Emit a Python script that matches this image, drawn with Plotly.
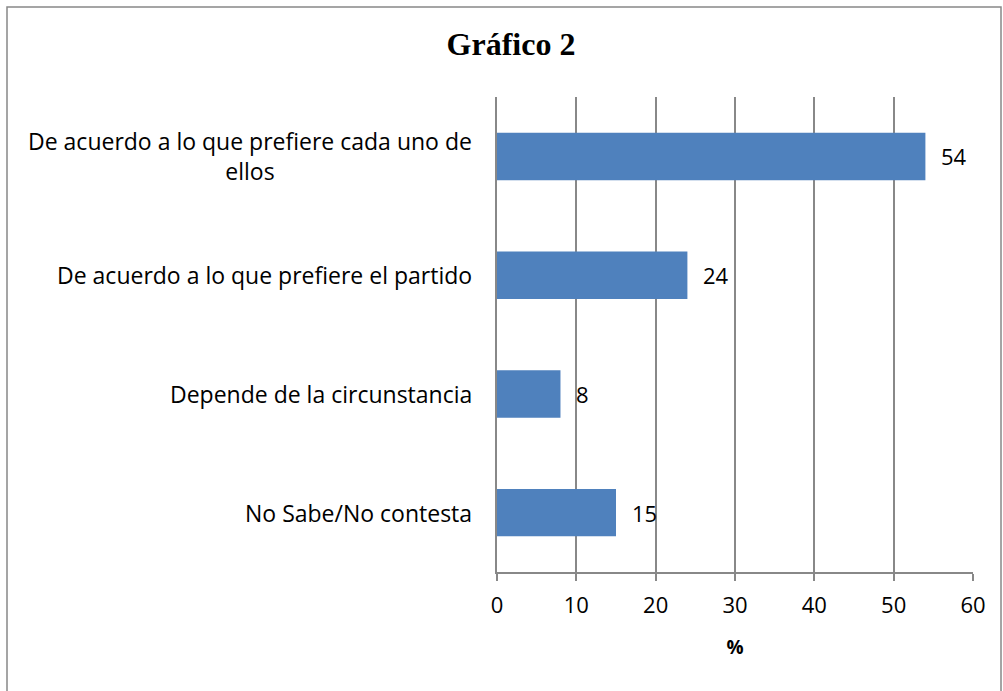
import plotly.graph_objects as go

categories = [
    "De acuerdo a lo que prefiere cada uno de<br>ellos",
    "De acuerdo a lo que prefiere el partido",
    "Depende de la circunstancia",
    "No Sabe/No contesta",
]
values = [54, 24, 8, 15]
x_ticks = [0, 10, 20, 30, 40, 50, 60]

W, H = 1003, 691
L, R, T, B = 497, 30, 97, 119
pw, ph = W - L - R, H - T - B

def px_x(px):
    return (px - L) / pw

def px_y(py):
    return 1 - (py - T) / ph

fig = go.Figure()
fig.add_trace(go.Bar(
    y=categories, x=values, orientation="h",
    marker=dict(color="#4F81BD", line=dict(width=0)),
    text=values, textposition="none", hoverinfo="skip",
))

font_lbl = "'Open Sans', Lato, sans-serif"
for c, v in zip(categories, values):
    fig.add_annotation(x=v, y=c, xref="x", yref="y", text=str(v), showarrow=False,
                       xanchor="left", xshift=14, font=dict(family=font_lbl, size=22, color="black"))
    fig.add_annotation(x=0, y=c, xref="x", yref="y", text=c, showarrow=False,
                       xanchor="right", xshift=-23, align="center",
                       font=dict(family=font_lbl, size=23, color="black"))

fig.update_layout(
    width=W, height=H,
    margin=dict(l=L, r=R, t=T, b=B),
    paper_bgcolor="white", plot_bgcolor="white",
    bargap=0.6, showlegend=False,
    title=dict(text="<b>Gráfico 2</b>", x=511 / W, xref="container", xanchor="center",
               y=1 - 44 / H, yref="container", yanchor="middle",
               font=dict(family="'Liberation Serif', 'Times New Roman', serif", size=32, color="black")),
    xaxis=dict(range=[0, 60], tickvals=x_ticks, showgrid=True, gridcolor="#888888", gridwidth=1.5,
               showline=True, linecolor="#888888", linewidth=1.5, ticks="outside", ticklen=7,
               tickcolor="#888888", tickwidth=1.5, zeroline=False,
               tickfont=dict(family=font_lbl, size=22, color="black"), ticklabelstandoff=6,
               title=dict(text="<b>%</b>", font=dict(family=font_lbl, size=19, color="black"), standoff=23),
               fixedrange=True),
    yaxis=dict(autorange="reversed", showticklabels=False, showgrid=False, showline=True,
               linecolor="#888888", linewidth=1.5, ticks="", zeroline=False, fixedrange=True),
)

# outer chart border
fig.add_shape(type="rect", xref="paper", yref="paper",
              x0=px_x(7), x1=px_x(1001), y0=px_y(700), y1=px_y(7),
              line=dict(color="#888888", width=1.5), fillcolor="rgba(0,0,0,0)", layer="below")

fig.write_html("out.html", config={"displayModeBar": False},
               post_script="document.body.style.margin='0px';")
